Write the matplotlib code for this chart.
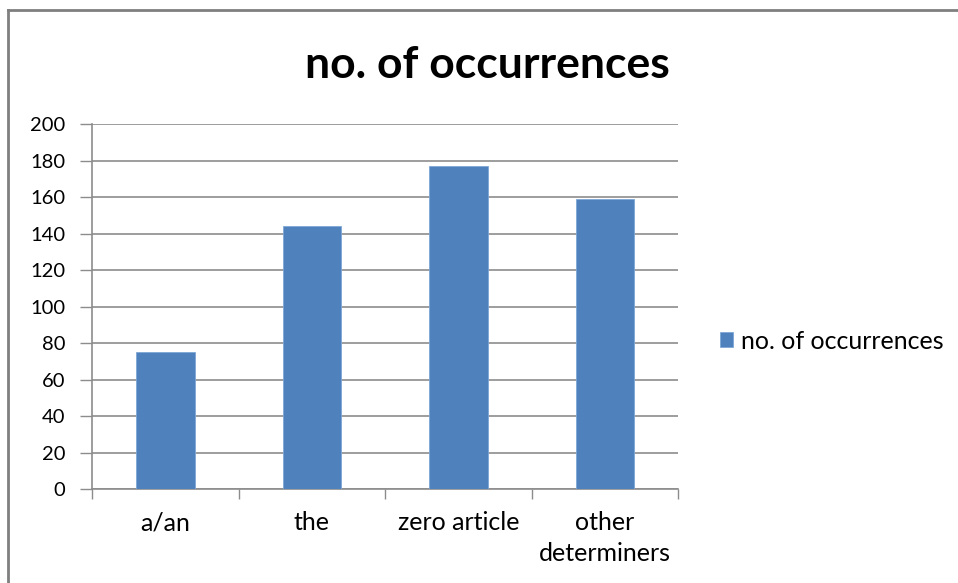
import matplotlib
matplotlib.use("Agg")
import matplotlib.pyplot as plt
import numpy as np

categories = ["a/an", "the", "zero article", "other\ndeterminers"]
counts = [75, 144, 177, 159]
series_name = "no. of occurrences"
yticks = [0, 20, 40, 60, 80, 100, 120, 140, 160, 180, 200]

BAR = "#4F81BD"
GRID = "#8C8C8C"

plt.rcParams["font.family"] = ["Lato", "DejaVu Sans"]

fig = plt.figure(figsize=(9.58, 5.83), dpi=100)
ax = fig.add_axes([0.096, 0.1612, 0.612, 0.626])

x = np.arange(len(categories))
ax.bar(x, counts, width=0.4, color=BAR, edgecolor="#7EA6D8", linewidth=0.6,
       label=series_name, zorder=3)

ax.set_xlim(-0.5, len(categories) - 0.5)
ax.set_ylim(0, 200)
ax.set_yticks(yticks)
ax.tick_params(axis="y", length=9, width=1, color=GRID, labelsize=14.5, pad=10)
ax.yaxis.grid(True, color=GRID, linewidth=1.2, zorder=0)

# category ticks sit between the bars
ax.set_xticks(np.arange(-0.5, len(categories), 1.0))
ax.set_xticklabels([])
ax.tick_params(axis="x", length=7, width=1, color=GRID)
ax.set_xticks(x, minor=True)
ax.set_xticklabels(categories, minor=True, fontsize=18, linespacing=1.4)
ax.tick_params(axis="x", which="minor", length=0, pad=16)

for side in ["top", "right"]:
    ax.spines[side].set_visible(False)
for side in ["left", "bottom"]:
    ax.spines[side].set_color(GRID)
    ax.spines[side].set_linewidth(1.2)

fig.text(0.509, 0.866, series_name, ha="center", va="baseline",
         fontsize=32, fontweight="bold")

fig.legend(*ax.get_legend_handles_labels(), loc="center left",
           bbox_to_anchor=(0.7516, 0.415), frameon=False, borderpad=0,
           borderaxespad=0, fontsize=18, handlelength=0.52, handleheight=0.52,
           handletextpad=0.3)

# outer chart frame (cropped screenshot: left and top edges only)
fig.add_artist(plt.Line2D([0.0085, 0.0085], [0.0, 0.982], transform=fig.transFigure,
                          color="#7F7F7F", linewidth=2))
fig.add_artist(plt.Line2D([0.0085, 1.0], [0.982, 0.982], transform=fig.transFigure,
                          color="#7F7F7F", linewidth=2))

fig.savefig("out.png", dpi=100)
